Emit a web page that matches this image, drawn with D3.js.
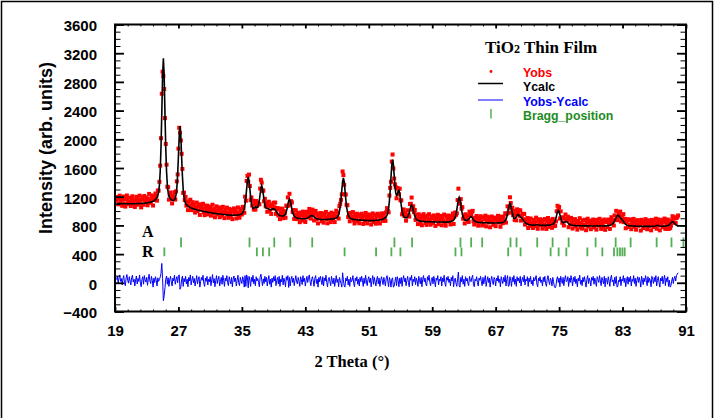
<!DOCTYPE html>
<html><head><meta charset="utf-8">
<script src="https://cdn.jsdelivr.net/npm/d3@7"></script>
<style>body{margin:0;background:#fff}</style>
</head><body>
<svg id="c" width="716" height="418"></svg>
<script>
// 2θ sampling grid: start and step (degrees)
const startAngle = 19.2, stepAngle = 0.1;

// Ycalc (counts), one value per 0.1°
const yCalc = [
1105,1105,1104,1104,1104,1103,1103,1103,
1103,1103,1102,1102,1102,1102,1101,1101,1101,1101,
1101,1101,1101,1101,1102,1102,1102,1103,1103,1104,
1104,1105,1105,1106,1107,1107,1108,1109,1110,1111,
1113,1115,1117,1119,1122,1125,1128,1132,1137,1143,
1150,1160,1172,1190,1215,1265,1362,1552,1885,2365,
2882,3130,2880,2365,1885,1551,1359,1261,1209,1185,
1169,1158,1151,1148,1150,1157,1180,1229,1329,1510,
1770,2050,2183,2044,1758,1491,1303,1195,1138,1107,
1090,1078,1068,1061,1054,1048,1043,1038,1034,1031,
1028,1024,1021,1018,1015,1012,1009,1006,1003,1000,
998,996,994,992,990,988,986,984,982,980,
978,976,975,973,971,970,968,966,965,963,
962,960,959,958,956,955,954,952,951,950,
949,948,947,946,945,944,943,943,942,942,
942,942,942,942,944,945,946,948,952,956,
962,974,997,1036,1100,1194,1310,1420,1478,1418,
1313,1201,1115,1062,1039,1037,1046,1060,1055,1049,
1056,1089,1150,1234,1316,1356,1317,1232,1147,1081,
1050,1038,1035,1036,1030,1022,1018,1020,1026,1030,
1031,1028,1018,1000,985,967,953,943,937,933,
930,929,930,934,943,961,990,1034,1090,1142,
1166,1142,1088,1030,983,950,930,918,911,907,
902,899,897,895,894,893,892,892,892,892,
893,896,900,905,912,920,928,935,937,935,
928,919,910,902,896,891,888,886,884,883,
884,883,883,883,883,883,883,884,884,884,
885,886,887,888,889,891,894,896,900,905,
912,927,950,994,1065,1167,1293,1411,1461,1410,
1292,1165,1062,991,946,922,907,898,893,889,
886,884,882,880,879,878,877,876,875,874,
873,872,871,871,870,870,869,869,868,868,
868,867,867,867,867,867,867,868,868,869,
871,872,873,875,877,879,881,884,888,892,
900,908,920,941,975,1038,1141,1288,1468,1639,
1718,1654,1503,1353,1253,1218,1236,1277,1290,1246,
1161,1074,1004,954,923,915,908,906,908,921,
944,978,1023,1066,1083,1063,1017,970,930,902,
885,876,868,865,862,861,859,857,856,856,
854,853,853,852,852,851,851,851,850,850,
850,849,849,849,848,848,848,848,847,847,
847,847,847,847,846,846,846,846,846,846,
848,849,851,853,856,860,866,875,889,915,
957,1018,1093,1162,1192,1162,1092,1017,955,913,
891,877,870,868,870,877,888,902,916,921,
913,898,880,867,857,851,847,845,841,840,
839,838,838,838,838,837,837,836,836,836,
835,835,835,834,834,834,834,834,834,834,
834,834,834,834,835,835,836,836,839,840,
846,852,864,884,918,966,1027,1082,1107,1083,
1030,972,928,902,896,903,920,939,951,946,
933,920,912,902,888,870,854,841,832,826,
818,814,811,809,807,806,805,804,804,803,
805,808,810,808,805,802,801,800,800,800,
800,800,800,801,801,802,803,804,805,806,
808,811,816,825,840,865,902,947,988,1006,
991,950,906,870,847,839,839,845,852,854,
848,837,825,815,809,805,803,801,800,799,
798,797,797,796,796,796,795,795,795,795,
794,794,794,794,793,793,793,793,793,792,
792,792,792,792,791,791,791,791,792,792,
792,792,791,791,791,791,791,792,793,794,
796,797,797,799,801,804,809,817,828,843,
865,889,913,933,942,936,923,908,894,883,
872,857,840,826,815,807,802,798,796,794,
793,792,792,791,791,790,790,790,789,789,
789,788,788,788,788,787,787,787,787,787,
787,786,786,786,786,786,786,787,787,788,
789,791,794,798,801,798,794,791,789,788,
789,789,790,790,791,792,794,797,801,809,
821,834,847,853,847,835,822,811,803,799,
798
];

// Yobs - Ycalc (counts), same grid
const yDiff = [
45,90,-10,70,110,20,60,-30,
55,100,0,-40,65,115,35,-5,85,25,
-30,75,105,10,50,-45,40,95,-15,60,
20,110,-5,-55,50,85,-20,100,40,10,
75,-35,50,120,25,-10,90,35,-60,65,
5,85,35,-45,70,20,45,80,130,270,
60,-250,-180,-70,50,95,-20,70,-50,40,
90,15,-45,65,25,105,-20,45,85,0,
100,110,-90,-60,40,95,-50,60,15,90,
-15,50,-55,75,25,110,-30,40,90,0,
60,-45,30,100,-15,50,85,-60,20,75,
35,105,-10,-50,65,20,90,-30,50,15,
85,-40,40,115,0,60,-55,30,100,-10,
50,90,-45,20,75,-20,105,35,-50,65,
25,100,5,-40,85,35,-15,75,-55,50,
95,15,65,-45,35,105,0,-40,75,25,
-10,85,45,-60,100,-50,110,70,-70,90,
35,-50,75,15,105,-15,50,-40,85,25,
60,5,-55,80,120,40,-40,55,-10,90,
15,75,-45,40,100,-20,50,-60,65,5,
85,25,100,-40,35,75,-15,90,-50,50,
15,105,-30,65,25,-55,85,35,100,-65,
75,-45,50,90,5,65,-40,35,100,15,
-15,75,25,-50,85,45,-25,100,15,65,
-45,35,90,5,75,110,15,-40,50,85,
25,-50,65,100,-10,50,-60,75,15,90,
35,-25,85,-45,65,25,105,5,-55,50,
75,15,-40,90,35,-15,65,-50,25,100,
5,50,-55,75,35,-10,-60,140,40,-45,
-60,65,25,90,-30,50,-50,75,15,35,
100,-10,-55,65,25,85,-20,50,-45,75,
15,90,35,-50,65,-10,105,25,-40,50,
85,5,65,-55,35,100,-20,75,15,-45,
50,90,-15,65,-50,25,85,35,-25,75,
15,-45,65,100,25,-55,75,35,-60,50,
70,-60,-50,20,80,-40,85,35,-55,65,
-10,75,-50,50,100,15,65,-40,35,90,
5,-55,75,35,105,-45,50,15,85,-25,
65,25,-50,90,35,-15,75,-55,50,100,
15,65,-20,-45,85,35,105,5,-40,50,
75,-15,90,25,-55,65,35,100,-30,50,
25,85,-45,65,15,105,-10,-50,75,35,
90,5,50,-40,75,25,100,-55,35,65,
-10,-50,60,150,-40,-60,75,15,100,-20,
50,-50,85,25,65,-10,-40,90,35,15,
75,105,-20,-55,50,25,85,5,-45,65,
35,90,15,-40,75,-15,50,100,-50,25,
85,5,65,-60,35,90,15,-25,75,45,
-45,65,25,100,5,50,-55,85,35,-10,
75,15,105,-45,45,100,-50,-40,85,30,
-50,75,15,100,-20,50,-50,85,25,65,
0,90,-45,35,75,15,105,-30,50,25,
85,-50,65,15,90,-15,35,-40,75,25,
50,100,-20,-55,65,25,85,5,40,-45,
75,15,90,-10,-50,50,100,25,-25,65,
35,-45,75,15,-50,-70,-45,50,85,5,
65,-55,90,35,-10,75,-40,50,100,15,
25,85,-50,65,5,100,35,-45,75,15,
90,-10,50,-55,65,25,105,-20,40,-40,
75,15,85,5,-60,50,100,-10,65,25,
-45,75,35,90,-20,65,15,-50,85,45,
5,100,25,-40,75,35,-15,90,-55,65,
50,-20,85,25,-50,65,105,15,40,-45,
75,-10,90,-60,-50,35,15,85,-40,50,
25,100,5,65,-55,35,85,-20,75,15,
90,-45,50,20,100,-10,65,-50,35,85,
5,75,25,-60,90,45,-25,65,15,100,
35,-40,85,5,65,25,-55,90,45,-10,
75,15,100,-45,35,85,5,-60,65,25,
90,-15,50,105,-40,65,15,85,-50,35,
-60,-40,25,75,-10,60,90,25,100,120,
140
];

// Bragg positions (2θ)
const braggA = [27.33,35.96,39.08,41.10,43.87,54.23,56.46,62.56,63.91,65.30,68.87,69.63,72.24,74.18,76.20,79.60,82.13,84.02,87.30,89.17,90.68];
const braggR = [25.22,36.89,37.65,38.44,47.95,51.92,53.85,54.99,61.93,62.69,68.58,70.14,73.93,74.94,75.91,78.56,80.45,81.92,82.35,82.68,82.98,83.27];
const rowA = [496, 630], rowR = [370, 492];

const xTicks = [19,27,35,43,51,59,67,75,83,91];
const yTicks = [-400,0,400,800,1200,1600,2000,2400,2800,3200,3600];
const legendLabels = ["Yobs","Ycalc","Yobs-Ycalc","Bragg_position"];

const L = 115, R = 686, T = 24.5, B = 311.5;
const SANS = "'Liberation Sans', Arial, sans-serif";
const SERIF = "'Liberation Serif', 'Times New Roman', serif";

const n = Math.min(yCalc.length, yDiff.length);
const pts = d3.range(n).map(i => ({
  t: +(startAngle + i * stepAngle).toFixed(2),
  calc: yCalc[i],
  diff: yDiff[i],
  obs: yCalc[i] + yDiff[i]
}));

const x = d3.scaleLinear([19, 91], [L, R]);
const y = d3.scaleLinear([-400, 3600], [B, T]);

const svg = d3.select('#c');
svg.append('rect').attr('width', 716).attr('height', 418).attr('fill', '#fff');
svg.append('rect').attr('x', 1.5).attr('y', 1.5).attr('width', 711).attr('height', 430)
  .attr('fill', 'none').attr('stroke', '#000').attr('stroke-width', 1.5);

svg.append('clipPath').attr('id', 'clip').append('rect')
  .attr('x', L).attr('y', T).attr('width', R - L).attr('height', B - T);
const plot = svg.append('g').attr('clip-path', 'url(#clip)');

// observed points
plot.append('g').selectAll('rect').data(pts).join('rect')
  .attr('x', d => x(d.t) - 2).attr('y', d => y(d.obs) - 2)
  .attr('width', 4).attr('height', 4).attr('fill', '#ff0000');

// calc line
plot.append('path').datum(pts)
  .attr('d', d3.line().x(d => x(d.t)).y(d => y(d.calc)))
  .attr('fill', 'none').attr('stroke', '#000').attr('stroke-width', 1.6);

// difference line
plot.append('path').datum(pts)
  .attr('d', d3.line().x(d => x(d.t)).y(d => y(d.diff)))
  .attr('fill', 'none').attr('stroke', '#0000ff').attr('stroke-width', 1);

// Bragg ticks
function braggRow(vals, row) {
  plot.append('g').selectAll('line').data(vals).join('line')
    .attr('x1', d => x(d)).attr('x2', d => x(d))
    .attr('y1', y(row[0])).attr('y2', y(row[1]))
    .attr('stroke', '#36a036').attr('stroke-width', 1.8).attr('stroke-opacity', 0.85);
}
braggRow(braggA, rowA);
braggRow(braggR, rowR);

// axes
const xMinor = d3.range(19, 91.01, 1.6);
const yMinor = d3.range(-400, 3601, 100);
function styleAxis(g, w) {
  g.select('.domain').remove();
  g.selectAll('.tick line').attr('stroke', '#000').attr('stroke-width', w);
}
svg.append('g').attr('transform', `translate(0,${B})`)
  .call(d3.axisBottom(x).tickValues(xMinor).tickSize(-2).tickFormat(''))
  .call(g => styleAxis(g, 1));
svg.append('g').attr('transform', `translate(0,${B})`)
  .call(d3.axisBottom(x).tickValues(xTicks).tickSize(-4.5).tickPadding(14).tickFormat(d3.format('d')))
  .call(g => styleAxis(g, 1.8))
  .call(g => g.selectAll('text').attr('font-family', SANS).attr('font-weight', 'bold')
    .attr('font-size', 15).attr('fill', '#000'));
svg.append('g').attr('transform', `translate(0,${T})`)
  .call(d3.axisTop(x).tickValues(xMinor).tickSize(-2).tickFormat(''))
  .call(g => styleAxis(g, 1));
svg.append('g').attr('transform', `translate(0,${T})`)
  .call(d3.axisTop(x).tickValues(xTicks).tickSize(-4).tickFormat(''))
  .call(g => styleAxis(g, 1.8));

svg.append('g').attr('transform', `translate(${L},0)`)
  .call(d3.axisLeft(y).tickValues(yMinor).tickSize(-5.5).tickFormat(''))
  .call(g => styleAxis(g, 1));
svg.append('g').attr('transform', `translate(${L},0)`)
  .call(d3.axisLeft(y).tickValues(yTicks).tickSize(-9).tickPadding(18).tickFormat(d3.format('d')))
  .call(g => styleAxis(g, 1.8))
  .call(g => g.selectAll('text').attr('font-family', SANS).attr('font-weight', 'bold')
    .attr('font-size', 15).attr('fill', '#000').attr('dy', '0.42em'));
svg.append('g').attr('transform', `translate(${R},0)`)
  .call(d3.axisRight(y).tickValues(yMinor).tickSize(-5.5).tickFormat(''))
  .call(g => styleAxis(g, 1));
svg.append('g').attr('transform', `translate(${R},0)`)
  .call(d3.axisRight(y).tickValues(yTicks).tickSize(-9).tickFormat(''))
  .call(g => styleAxis(g, 1.8));

// frame
svg.append('rect').attr('x', L).attr('y', T).attr('width', R - L).attr('height', B - T)
  .attr('fill', 'none').attr('stroke', '#000').attr('stroke-width', 2);

// axis titles
svg.append('text').attr('transform', 'translate(52,148) rotate(-90)')
  .attr('text-anchor', 'middle').attr('font-family', SANS).attr('font-weight', 'bold')
  .attr('font-size', 18).text('Intensity (arb. units)');
svg.append('text').attr('x', 352).attr('y', 366.5).attr('text-anchor', 'middle')
  .attr('font-family', SERIF).attr('font-weight', 'bold').attr('font-size', 16.5).text('2 Theta (°)');

// phase row labels
svg.append('text').attr('x', 142).attr('y', 237).attr('font-family', SERIF)
  .attr('font-weight', 'bold').attr('font-size', 16).text('A');
svg.append('text').attr('x', 142).attr('y', 256.5).attr('font-family', SERIF)
  .attr('font-weight', 'bold').attr('font-size', 16).text('R');

// title
const title = svg.append('text').attr('x', 485).attr('y', 53).attr('font-family', SERIF)
  .attr('font-weight', 'bold').attr('font-size', 17);
title.append('tspan').text('TiO');
title.append('tspan').attr('font-size', 12).text('2');
title.append('tspan').text(' Thin Film');

// legend
const lg = svg.append('g');
lg.append('circle').attr('cx', 491).attr('cy', 71.5).attr('r', 1.4).attr('fill', '#ff0000');
lg.append('line').attr('x1', 478).attr('x2', 503).attr('y1', 83.5).attr('y2', 83.5)
  .attr('stroke', '#000').attr('stroke-width', 1.5);
lg.append('line').attr('x1', 478).attr('x2', 503).attr('y1', 100).attr('y2', 100)
  .attr('stroke', '#0000ff').attr('stroke-width', 1);
lg.append('line').attr('x1', 491).attr('x2', 491).attr('y1', 109).attr('y2', 118.5)
  .attr('stroke', '#36a036').attr('stroke-width', 1.5).attr('stroke-opacity', 0.85);
const lgColors = ['#ff0000', '#000000', '#0000ff', '#1e8c1e'];
const lgY = [76.5, 91.3, 106.3, 119.5];
lg.selectAll('text.lg').data(legendLabels).join('text').attr('class', 'lg')
  .attr('x', 523).attr('y', (d, i) => lgY[i]).attr('fill', (d, i) => lgColors[i])
  .attr('font-family', SANS).attr('font-weight', 'bold').attr('font-size', 12.3).text(d => d);
</script>
</body></html>
